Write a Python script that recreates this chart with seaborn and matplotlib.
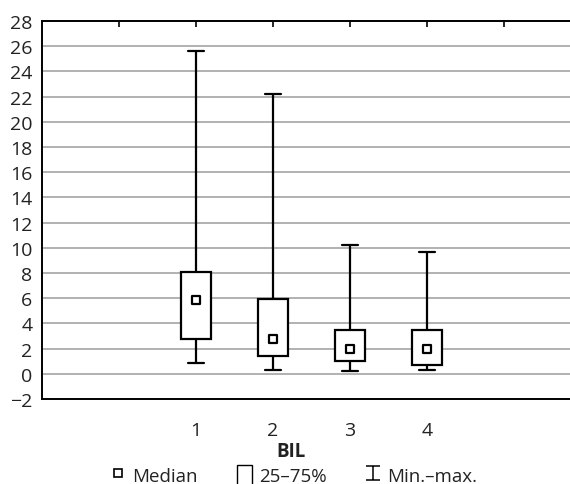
import numpy as np
import pandas as pd
import seaborn as sns
import matplotlib.pyplot as plt
from matplotlib.lines import Line2D
from matplotlib.patches import Patch
from matplotlib.path import Path

# values
groups = [1, 2, 3, 4]
mins = [0.87, 0.32, 0.2, 0.32]
q1s = [2.74, 1.42, 0.98, 0.66]
medians = [5.84, 2.79, 1.95, 1.95]
q3s = [8.05, 5.97, 3.47, 3.45]
maxs = [25.6, 22.2, 10.2, 9.7]

x_ticks = [0, 1, 2, 3, 4, 5]
x_ticklabels = ['', '1', '2', '3', '4', '']
legend_labels = ['Median', '25–75%', 'Min.–max.']

# five-number summary per group -> boxplot with whiskers at 0/100 percentiles
rows = []
for g, a, b, c, d, e in zip(groups, mins, q1s, medians, q3s, maxs):
    for v in (a, b, c, d, e):
        rows.append({'BIL': g, 'value': v})
df = pd.DataFrame(rows)

sns.set_style('white')
plt.rcParams['font.family'] = ['Open Sans', 'DejaVu Sans']
text_color = '#222222'

fig = plt.figure(figsize=(5.7, 4.85), dpi=100)
ax = fig.add_axes([42 / 570, 1 - 400 / 485, 528 / 570, 378 / 485])

sns.boxplot(data=df, x='BIL', y='value', native_scale=True, width=0.4,
            whis=(0, 100), color='white', linecolor='black', linewidth=1.6,
            saturation=1, showfliers=False, medianprops={'linewidth': 0},
            ax=ax)

# median squares
sns.scatterplot(x=groups, y=medians, marker='s', s=40, color='white',
                edgecolor='black', linewidth=1.6, zorder=5, ax=ax)

ax.set_xlim(-1, 5.857)
ax.set_ylim(-2, 28)
ax.set_yticks(range(-2, 29, 2))
ax.set_xticks(x_ticks)
ax.set_xticklabels(x_ticklabels)
ax.set_axisbelow(True)
ax.yaxis.grid(True, color='#ababab', linewidth=1.3)
ax.xaxis.grid(False)

for s in ['left', 'top', 'bottom']:
    ax.spines[s].set_color('black')
    ax.spines[s].set_linewidth(1.4)
ax.spines['right'].set_visible(False)

ax.tick_params(axis='x', direction='in', top=True, length=4, width=1.2,
               pad=16, labelsize=14, labelcolor=text_color, color='black')
ax.tick_params(axis='y', length=0, pad=7, labelsize=14, labelcolor=text_color)

ax.set_ylabel('')
ax.set_xlabel('BIL', fontweight='bold', fontsize=13.5, color=text_color)
ax.xaxis.set_label_coords((291 - 42) / 528, -0.11)

# legend
ibeam = Path([(-1, 1), (1, 1), (0, 1), (0, -1), (-1, -1), (1, -1)],
             [Path.MOVETO, Path.LINETO, Path.MOVETO, Path.LINETO,
              Path.MOVETO, Path.LINETO])
handles = [
    Line2D([], [], ls='', marker='s', ms=6, mfc='white', mec='black', mew=1.2),
    Patch(facecolor='white', edgecolor='black', linewidth=1.0),
    Line2D([], [], ls='', marker=ibeam, ms=10, mec='black', mew=1.1),
]
fig.legend(handles, legend_labels, loc='center',
           bbox_to_anchor=(294 / 570, 1 - 476 / 485), ncol=3, frameon=False,
           handlelength=0.8, handleheight=1.3, handletextpad=0.35,
           columnspacing=2.1, fontsize=13.5, labelcolor=text_color,
           borderpad=0, borderaxespad=0)

plt.savefig('out.png', dpi=100)
